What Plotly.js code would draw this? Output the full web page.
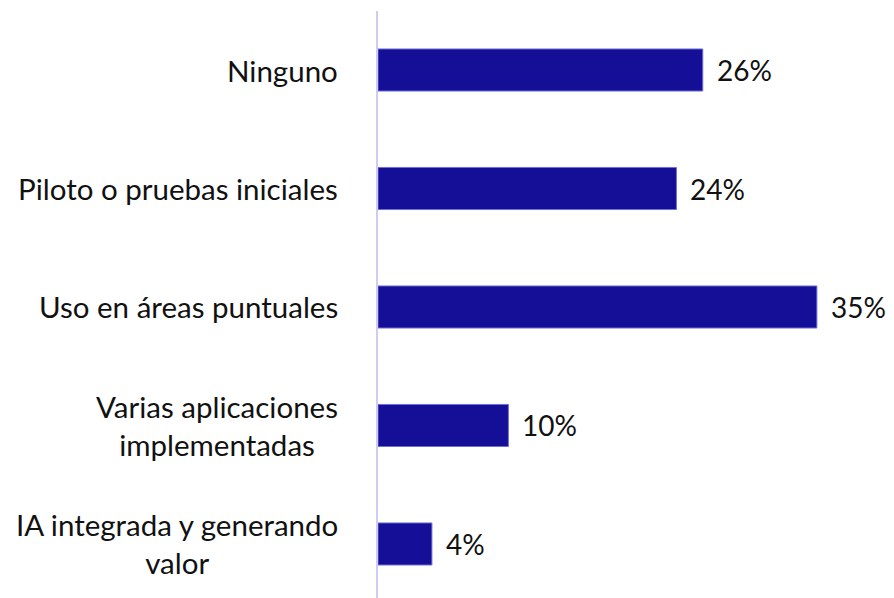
<!DOCTYPE html>
<html>
<head>
<meta charset="utf-8">
<script src="https://cdn.plot.ly/plotly-3.0.1.min.js"></script>
<style>html,body{margin:0;padding:0;background:#fff;}#chart{width:894px;height:598px;}</style>
</head>
<body>
<div id="chart"></div>
<script>
const categories = ["Ninguno", "Piloto o pruebas iniciales", "Uso en áreas puntuales", "Varias aplicaciones<br>implementadas", "IA integrada y generando<br>valor"];
const values = [25.9, 23.8, 35.0, 10.4, 4.3];
const valueLabels = ["26%", "24%", "35%", "10%", "4%"];

const FONT = "Lato, 'Open Sans', sans-serif";

const trace = {
  type: "bar",
  orientation: "h",
  y: categories.map((c, i) => i),
  x: values,
  marker: {color: "#140F96", line: {color: "#6f6fd8", width: 1}},
  hoverinfo: "none"
};

const annotations = [];
values.forEach((v, i) => {
  annotations.push({
    x: v, y: i, xref: "x", yref: "y", text: valueLabels[i],
    showarrow: false, xanchor: "left", yanchor: "middle", xshift: 12,
    font: {family: FONT, size: 28, color: "#111"}
  });
  annotations.push({
    x: 0, y: i, xref: "paper", yref: "y", text: categories[i],
    showarrow: false, xanchor: "right", yanchor: "middle", align: "center", xshift: -38,
    font: {family: FONT, size: 29.5, color: "#111"}
  });
});

const layout = {
  width: 894, height: 598,
  margin: {l: 378, r: 0, t: 11, b: 0, pad: 0},
  paper_bgcolor: "#fff", plot_bgcolor: "#fff",
  showlegend: false,
  bargap: 0.645,
  xaxis: {range: [0, 41.15], visible: false, showgrid: false, zeroline: false, fixedrange: true},
  yaxis: {range: [4.456, -0.498], showticklabels: false, showgrid: false, zeroline: false,
          showline: true, linecolor: "#ccccf6", linewidth: 2, ticks: "", fixedrange: true},
  annotations: annotations
};

Plotly.newPlot("chart", [trace], layout, {staticPlot: true, displayModeBar: false});
</script>
</body>
</html>
